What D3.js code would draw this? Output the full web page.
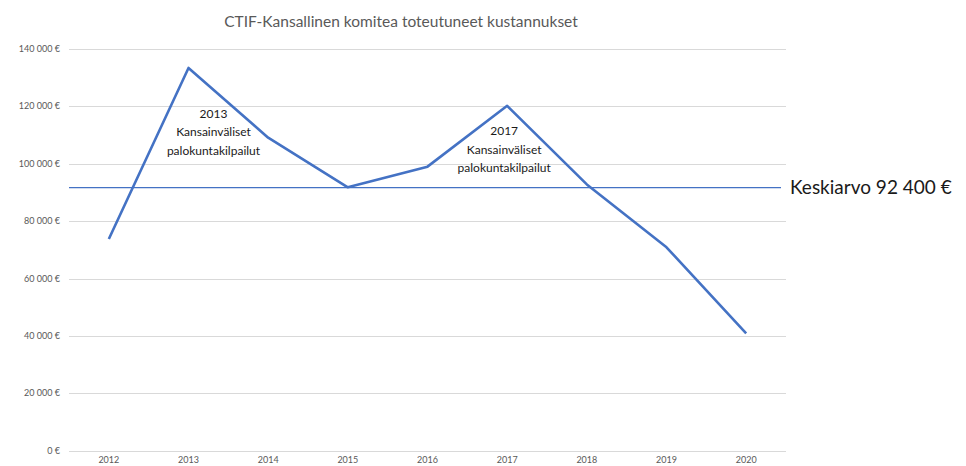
<!DOCTYPE html>
<meta charset="utf-8">
<script src="https://d3js.org/d3.v7.min.js"></script>
<style>
  body { margin: 0; background: #fff; }
  text { font-family: Lato, "Open Sans", sans-serif; }
</style>
<div id="chart"></div>
<script>
// data
const years = ["2012", "2013", "2014", "2015", "2016", "2017", "2018", "2019", "2020"];
const costs = [73800, 133400, 109100, 91800, 99000, 120200, 92800, 70900, 40900];
const yTicks = [0, 20000, 40000, 60000, 80000, 100000, 120000, 140000];
const average = 92400;
const notes = [
  { year: "2013", value: 116000, lines: ["2013", "Kansainväliset", "palokuntakilpailut"] },
  { year: "2017", value: 110000, lines: ["2017", "Kansainväliset", "palokuntakilpailut"] }
];

const W = 966, H = 466;
const margin = { top: 49, right: 180, bottom: 15, left: 69 };

const svg = d3.select("#chart").append("svg")
  .attr("width", W)
  .attr("height", H);

const x = d3.scaleBand()
  .domain(years)
  .range([margin.left, 786]);

const y = d3.scaleLinear()
  .domain([0, 140000])
  .range([450.7, margin.top]);

const fmt = v => d3.format(",")(v).replace(/,/g, " ") + " €";

// gridlines
svg.append("g")
  .selectAll("line")
  .data(yTicks)
  .join("line")
  .attr("x1", margin.left)
  .attr("x2", 786)
  .attr("y1", d => Math.round(y(d)) + 0.5)
  .attr("y2", d => Math.round(y(d)) + 0.5)
  .attr("stroke", "#d9d9d9")
  .attr("stroke-width", 1.2);

// y labels
svg.append("g")
  .selectAll("text")
  .data(yTicks)
  .join("text")
  .attr("x", 60)
  .attr("y", d => y(d) + 3)
  .attr("text-anchor", "end")
  .attr("font-size", 9)
  .attr("fill", "#595959")
  .text(fmt);

// x labels
svg.append("g")
  .selectAll("text")
  .data(years)
  .join("text")
  .attr("x", d => x(d) + x.bandwidth() / 2)
  .attr("y", 463)
  .attr("text-anchor", "middle")
  .attr("font-size", 9)
  .attr("fill", "#595959")
  .text(d => d);

// title
svg.append("text")
  .attr("x", 401)
  .attr("y", 27)
  .attr("text-anchor", "middle")
  .attr("font-size", 15.5)
  .attr("fill", "#595959")
  .text("CTIF-Kansallinen komitea toteutuneet kustannukset");

// average line
svg.append("line")
  .attr("x1", margin.left)
  .attr("x2", 781)
  .attr("y1", y(average) + 2)
  .attr("y2", y(average) + 2)
  .attr("stroke", "#4472c4")
  .attr("stroke-width", 1.3);

svg.append("text")
  .attr("x", 790)
  .attr("y", y(average) + 8)
  .attr("font-size", 19)
  .attr("fill", "#1a1a1a")
  .text("Keskiarvo " + fmt(average));

// cost line
const line = d3.line()
  .x((d, i) => x(years[i]) + x.bandwidth() / 2)
  .y(d => y(d));

svg.append("path")
  .datum(costs)
  .attr("d", line)
  .attr("fill", "none")
  .attr("stroke", "#4472c4")
  .attr("stroke-width", 2.6)
  .attr("stroke-linejoin", "round");

// annotations
notes.forEach(n => {
  const t = svg.append("text")
    .attr("text-anchor", "middle")
    .attr("font-size", 12)
    .attr("fill", "#1a1a1a");
  n.lines.forEach((s, i) => {
    t.append("tspan")
      .attr("x", x(n.year) + x.bandwidth() / 2 + (n.year === "2013" ? 25 : -3))
      .attr("y", y(n.value) + i * 18.5)
      .text(s);
  });
});
</script>
